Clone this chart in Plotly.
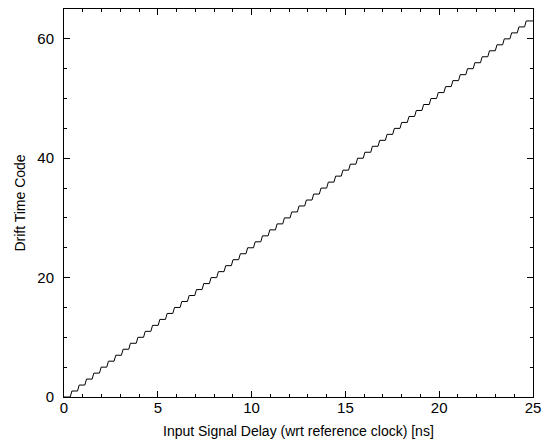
import plotly.graph_objects as go

# Delay (ns) at which each drift time code (1..63) begins
transition_delay = [
    0.33, 0.72, 1.11, 1.50, 1.89, 2.28, 2.67, 3.06, 3.45, 3.85,
    4.24, 4.63, 5.02, 5.41, 5.80, 6.19, 6.58, 6.97, 7.36, 7.75,
    8.14, 8.53, 8.92, 9.31, 9.70, 10.10, 10.49, 10.88, 11.27, 11.66,
    12.05, 12.44, 12.83, 13.22, 13.61, 14.00, 14.39, 14.78, 15.17, 15.56,
    15.95, 16.35, 16.74, 17.13, 17.52, 17.91, 18.30, 18.69, 19.08, 19.47,
    19.86, 20.25, 20.64, 21.03, 21.42, 21.81, 22.20, 22.59, 22.99, 23.38,
    23.77, 24.16, 24.55,
]
codes = list(range(1, 64))
delay_start = 0.0
delay_end = 25.0
rise_width = 0.09
x_title = "Input Signal Delay (wrt reference clock) [ns]"
y_title = "Drift Time Code"

xs = [delay_start]
ys = [0]
for t, c in zip(transition_delay, codes):
    xs += [t, t + rise_width]
    ys += [c - 1, c]
xs.append(delay_end)
ys.append(codes[-1])

fig = go.Figure(go.Scatter(x=xs, y=ys, mode="lines",
                           line=dict(color="black", width=1), hoverinfo="skip"))

font = dict(family="Liberation Sans, Arial, sans-serif", color="black")
axis_common = dict(
    showgrid=False, zeroline=False, showline=True, linecolor="black", linewidth=1,
    mirror="allticks", ticks="inside", ticklen=6, tickwidth=1, tickcolor="black",
    tickfont=dict(size=15, **font), automargin=False,
)
fig.update_xaxes(range=[0, 25], tick0=0, dtick=5,
                 minor=dict(dtick=1, ticks="inside", ticklen=3, tickcolor="black"),
                 ticklabelstandoff=-3,
                 **axis_common)
fig.update_yaxes(range=[0, 65], tick0=0, dtick=20,
                 minor=dict(dtick=5, ticks="inside", ticklen=3, tickcolor="black"),
                 title=dict(text=y_title, font=dict(size=14, **font), standoff=8),
                 ticklabelstandoff=6,
                 **axis_common)
fig.add_annotation(text=x_title, xref="paper", yref="paper", x=0.5, y=0,
                   xanchor="center", yanchor="top", yshift=-24, showarrow=False,
                   font=dict(size=14, **font))
fig.update_layout(width=551, height=443, margin=dict(l=64, r=18, t=9, b=46),
                  paper_bgcolor="white", plot_bgcolor="white", showlegend=False)
fig.write_html("out.html", post_script="document.body.style.margin='0';",
               config={"displayModeBar": False})
